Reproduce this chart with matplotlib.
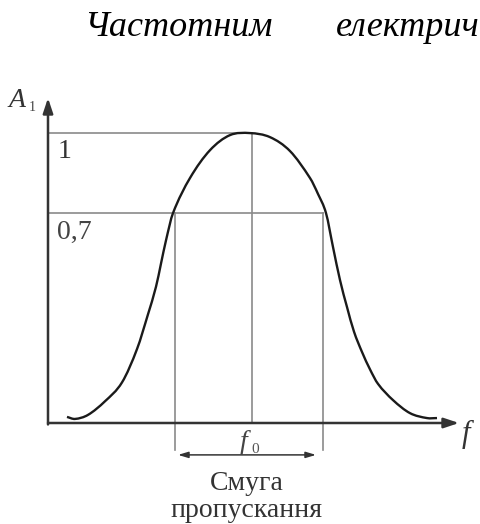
import matplotlib
matplotlib.use("Agg")
import matplotlib.pyplot as plt
from matplotlib.path import Path
from matplotlib.patches import PathPatch
import numpy as np

# ---- data ----
curve_f = [19, 27, 40, 57, 74, 89, 100, 108, 113, 118, 125, 142, 162, 182, 202,
           222, 242, 262, 270, 278, 285, 292, 299, 306, 314, 322, 330, 345,
           362, 379, 389]
curve_A = [0.021, 0.014, 0.028, 0.075, 0.14, 0.255, 0.375, 0.47, 0.55, 0.63,
           0.724, 0.845, 0.941, 0.993, 1.0,
           0.986, 0.938, 0.845, 0.79, 0.724, 0.607, 0.493, 0.40, 0.315, 0.245,
           0.185, 0.135, 0.079, 0.034, 0.017, 0.017]
peak_level = 1.0
band_level = 0.724
f_low, f0, f_high = 127, 204, 275
tick_labels = ["1", "0,7"]
title_words = ["Частотним", "електрич"]
band_label = ["Смуга", "пропускання"]

W, H = 481, 524
fig = plt.figure(figsize=(W / 100, H / 100), dpi=100)
fig.patch.set_facecolor("white")

x_max, y_max = 411, 1.121
ax = fig.add_axes([48 / W, (H - 423) / H, 411 / W, 325 / H])
ax.set_xlim(0, x_max)
ax.set_ylim(0, y_max)
ax.axis("off")

serif = ["Liberation Serif", "DejaVu Serif"]
axis_col = "#333333"
grid_col = "#8a8a8a"

# smooth rendering of the curve through the read points (Hermite -> Bezier)
fx = np.asarray(curve_f, float)
fy = np.asarray(curve_A, float)
n = len(fx)
slopes = np.zeros(n)
for i in range(n):
    if i == 0:
        slopes[i] = (fy[1] - fy[0]) / (fx[1] - fx[0])
    elif i == n - 1:
        slopes[i] = (fy[-1] - fy[-2]) / (fx[-1] - fx[-2])
    else:
        slopes[i] = (fy[i + 1] - fy[i - 1]) / (fx[i + 1] - fx[i - 1])
verts = [(fx[0], fy[0])]
codes = [Path.MOVETO]
for i in range(n - 1):
    d = (fx[i + 1] - fx[i]) / 3
    verts += [(fx[i] + d, fy[i] + slopes[i] * d),
              (fx[i + 1] - d, fy[i + 1] - slopes[i + 1] * d),
              (fx[i + 1], fy[i + 1])]
    codes += [Path.CURVE4] * 3
ax.add_patch(PathPatch(Path(verts, codes), fill=False, lw=1.7, ec="#1a1a1a",
                       clip_on=False, zorder=5, joinstyle="round"))

# horizontal reference lines
ax.plot([0, f0 - 2], [peak_level, peak_level], color=grid_col, lw=1.2, clip_on=False)
ax.plot([0, f_high], [band_level, band_level], color=grid_col, lw=1.2, clip_on=False)
# vertical lines
ax.plot([f0, f0], [0, peak_level], color=grid_col, lw=1.2, clip_on=False)
ax.plot([f_low, f_low], [-0.093, band_level], color=grid_col, lw=1.2, clip_on=False)
ax.plot([f_high, f_high], [-0.093, band_level], color=grid_col, lw=1.2, clip_on=False)

# axes with arrows
ax.annotate("", xy=(x_max, 0), xytext=(0, 0), annotation_clip=False,
            arrowprops=dict(arrowstyle="-|>,head_length=0.9,head_width=0.3",
                            color=axis_col, lw=1.8, shrinkA=0, shrinkB=0))
ax.annotate("", xy=(0, y_max), xytext=(0, -0.005), annotation_clip=False,
            arrowprops=dict(arrowstyle="-|>,head_length=0.9,head_width=0.3",
                            color=axis_col, lw=1.8, shrinkA=0, shrinkB=0))

# band double arrow
ax.annotate("", xy=(f_high - 7, -0.11), xytext=(f_low + 3, -0.11), annotation_clip=False,
            arrowprops=dict(arrowstyle="<|-|>,head_length=0.6,head_width=0.18",
                            color=axis_col, lw=1.1, shrinkA=0, shrinkB=0))

# tick labels
ax.text(10, peak_level - 0.02, tick_labels[0], family=serif, fontsize=20,
        color="#333333", va="top", ha="left")
ax.text(9, band_level - 0.025, tick_labels[1], family=serif, fontsize=20,
        color="#444444", va="top", ha="left")

# axis labels
fig.text(9 / W, 1 - 107 / H, "A", family=serif, style="italic", fontsize=20,
         color="#333333", va="baseline", ha="left")
fig.text(29 / W, 1 - 111 / H, "1", family=serif, fontsize=10,
         color="#444444", va="baseline", ha="left")
fig.text(462 / W, 1 - 442 / H, "f", family=serif, style="italic", fontsize=22,
         color="#333333", va="baseline", ha="left")
fig.text(240 / W, 1 - 449 / H, "f", family=serif, style="italic", fontsize=20,
         color="#444444", va="baseline", ha="left")
fig.text(251 / W, 1 - 453 / H, "0", family=serif, fontsize=11,
         color="#555555", va="baseline", ha="left")

# band label
fig.text(247 / W, 1 - 490 / H, band_label[0], family=serif, fontsize=20,
         color="#333333", va="baseline", ha="center")
fig.text(247 / W, 1 - 517 / H, band_label[1], family=serif, fontsize=20,
         color="#333333", va="baseline", ha="center")

# heading text (the second word is cut at the page edge in the original)
fig.text(84 / W, 1 - 36 / H, title_words[0], family=serif, style="italic",
         fontsize=26, color="black", va="baseline", ha="left")
fig.text(480 / W, 1 - 36 / H, title_words[1], family=serif, style="italic",
         fontsize=26, color="black", va="baseline", ha="right")

fig.savefig("out.png", dpi=100)
